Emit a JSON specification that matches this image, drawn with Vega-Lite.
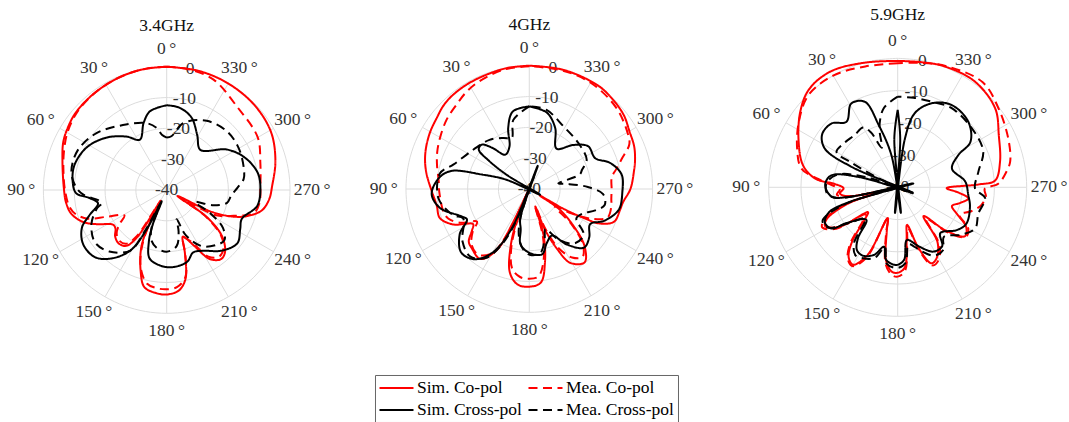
{
  "$schema": "https://vega.github.io/schema/vega-lite/v6.json",
  "autosize": {"type": "pad"},
  "padding": {"left": 2.7, "top": 0, "right": 0, "bottom": 0},
  "config": {"view": {"stroke": null}, "font": "Liberation Serif"},
  "datasets": {
    "rings": [
      {"level":-30,"angle":0},{"level":-30,"angle":10},{"level":-30,"angle":20},{"level":-30,"angle":30},{"level":-30,"angle":40},{"level":-30,"angle":50},{"level":-30,"angle":60},{"level":-30,"angle":70},{"level":-30,"angle":80},{"level":-30,"angle":90},{"level":-30,"angle":100},{"level":-30,"angle":110},{"level":-30,"angle":120},{"level":-30,"angle":130},{"level":-30,"angle":140},{"level":-30,"angle":150},{"level":-30,"angle":160},{"level":-30,"angle":170},{"level":-30,"angle":180},{"level":-30,"angle":190},{"level":-30,"angle":200},{"level":-30,"angle":210},{"level":-30,"angle":220},{"level":-30,"angle":230},{"level":-30,"angle":240},{"level":-30,"angle":250},{"level":-30,"angle":260},{"level":-30,"angle":270},{"level":-30,"angle":280},{"level":-30,"angle":290},{"level":-30,"angle":300},{"level":-30,"angle":310},{"level":-30,"angle":320},{"level":-30,"angle":330},{"level":-30,"angle":340},{"level":-30,"angle":350},{"level":-30,"angle":360},
      {"level":-20,"angle":0},{"level":-20,"angle":10},{"level":-20,"angle":20},{"level":-20,"angle":30},{"level":-20,"angle":40},{"level":-20,"angle":50},{"level":-20,"angle":60},{"level":-20,"angle":70},{"level":-20,"angle":80},{"level":-20,"angle":90},{"level":-20,"angle":100},{"level":-20,"angle":110},{"level":-20,"angle":120},{"level":-20,"angle":130},{"level":-20,"angle":140},{"level":-20,"angle":150},{"level":-20,"angle":160},{"level":-20,"angle":170},{"level":-20,"angle":180},{"level":-20,"angle":190},{"level":-20,"angle":200},{"level":-20,"angle":210},{"level":-20,"angle":220},{"level":-20,"angle":230},{"level":-20,"angle":240},{"level":-20,"angle":250},{"level":-20,"angle":260},{"level":-20,"angle":270},{"level":-20,"angle":280},{"level":-20,"angle":290},{"level":-20,"angle":300},{"level":-20,"angle":310},{"level":-20,"angle":320},{"level":-20,"angle":330},{"level":-20,"angle":340},{"level":-20,"angle":350},{"level":-20,"angle":360},
      {"level":-10,"angle":0},{"level":-10,"angle":10},{"level":-10,"angle":20},{"level":-10,"angle":30},{"level":-10,"angle":40},{"level":-10,"angle":50},{"level":-10,"angle":60},{"level":-10,"angle":70},{"level":-10,"angle":80},{"level":-10,"angle":90},{"level":-10,"angle":100},{"level":-10,"angle":110},{"level":-10,"angle":120},{"level":-10,"angle":130},{"level":-10,"angle":140},{"level":-10,"angle":150},{"level":-10,"angle":160},{"level":-10,"angle":170},{"level":-10,"angle":180},{"level":-10,"angle":190},{"level":-10,"angle":200},{"level":-10,"angle":210},{"level":-10,"angle":220},{"level":-10,"angle":230},{"level":-10,"angle":240},{"level":-10,"angle":250},{"level":-10,"angle":260},{"level":-10,"angle":270},{"level":-10,"angle":280},{"level":-10,"angle":290},{"level":-10,"angle":300},{"level":-10,"angle":310},{"level":-10,"angle":320},{"level":-10,"angle":330},{"level":-10,"angle":340},{"level":-10,"angle":350},{"level":-10,"angle":360},
      {"level":0,"angle":0},{"level":0,"angle":10},{"level":0,"angle":20},{"level":0,"angle":30},{"level":0,"angle":40},{"level":0,"angle":50},{"level":0,"angle":60},{"level":0,"angle":70},{"level":0,"angle":80},{"level":0,"angle":90},{"level":0,"angle":100},{"level":0,"angle":110},{"level":0,"angle":120},{"level":0,"angle":130},{"level":0,"angle":140},{"level":0,"angle":150},{"level":0,"angle":160},{"level":0,"angle":170},{"level":0,"angle":180},{"level":0,"angle":190},{"level":0,"angle":200},{"level":0,"angle":210},{"level":0,"angle":220},{"level":0,"angle":230},{"level":0,"angle":240},{"level":0,"angle":250},{"level":0,"angle":260},{"level":0,"angle":270},{"level":0,"angle":280},{"level":0,"angle":290},{"level":0,"angle":300},{"level":0,"angle":310},{"level":0,"angle":320},{"level":0,"angle":330},{"level":0,"angle":340},{"level":0,"angle":350},{"level":0,"angle":360}
    ],
    "spokes": [{"angle": 0}, {"angle": 30}, {"angle": 60}, {"angle": 90}, {"angle": 120}, {"angle": 150}, {"angle": 180}, {"angle": 210}, {"angle": 240}, {"angle": 270}, {"angle": 300}, {"angle": 330}],
    "angleLabels": [
      {"angle": 0, "label": "0\u2009°"}, {"angle": 30, "label": "30\u2009°"}, {"angle": 60, "label": "60\u2009°"}, {"angle": 90, "label": "90\u2009°"},
      {"angle": 120, "label": "120\u2009°"}, {"angle": 150, "label": "150\u2009°"}, {"angle": 180, "label": "180\u2009°"}, {"angle": 210, "label": "210\u2009°"},
      {"angle": 240, "label": "240\u2009°"}, {"angle": 270, "label": "270\u2009°"}, {"angle": 300, "label": "300\u2009°"}, {"angle": 330, "label": "330\u2009°"}
    ],
    "radialLabels": [{"level": 0, "label": "0"}, {"level": -10, "label": "-10"}, {"level": -20, "label": "-20"}, {"level": -30, "label": "-30"}, {"level": -40, "label": "-40"}],
    "titles": [{"panel": "3.4GHz"}, {"panel": "4GHz"}, {"panel": "5.9GHz"}],
    "curves": [
      {"panel":"3.4GHz","series":"Sim. Co-pol","angle":0,"dB":0},{"panel":"3.4GHz","series":"Sim. Co-pol","angle":10,"dB":-0.1},{"panel":"3.4GHz","series":"Sim. Co-pol","angle":20,"dB":-0.3},{"panel":"3.4GHz","series":"Sim. Co-pol","angle":30,"dB":-0.6},{"panel":"3.4GHz","series":"Sim. Co-pol","angle":40,"dB":-0.9},{"panel":"3.4GHz","series":"Sim. Co-pol","angle":50,"dB":-1.3},{"panel":"3.4GHz","series":"Sim. Co-pol","angle":57,"dB":-2},{"panel":"3.4GHz","series":"Sim. Co-pol","angle":65,"dB":-3},{"panel":"3.4GHz","series":"Sim. Co-pol","angle":75,"dB":-5},{"panel":"3.4GHz","series":"Sim. Co-pol","angle":90,"dB":-6.7},{"panel":"3.4GHz","series":"Sim. Co-pol","angle":97,"dB":-7.1},{"panel":"3.4GHz","series":"Sim. Co-pol","angle":104,"dB":-8.1},{"panel":"3.4GHz","series":"Sim. Co-pol","angle":111,"dB":-11},{"panel":"3.4GHz","series":"Sim. Co-pol","angle":116,"dB":-14.7},{"panel":"3.4GHz","series":"Sim. Co-pol","angle":123,"dB":-19.3},{"panel":"3.4GHz","series":"Sim. Co-pol","angle":127,"dB":-19.2},{"panel":"3.4GHz","series":"Sim. Co-pol","angle":132,"dB":-17.5},{"panel":"3.4GHz","series":"Sim. Co-pol","angle":138,"dB":-16.7},{"panel":"3.4GHz","series":"Sim. Co-pol","angle":144,"dB":-17.6},{"panel":"3.4GHz","series":"Sim. Co-pol","angle":148,"dB":-22},{"panel":"3.4GHz","series":"Sim. Co-pol","angle":150,"dB":-36},{"panel":"3.4GHz","series":"Sim. Co-pol","angle":153,"dB":-27},{"panel":"3.4GHz","series":"Sim. Co-pol","angle":156,"dB":-19.8},{"panel":"3.4GHz","series":"Sim. Co-pol","angle":162,"dB":-12.6},{"panel":"3.4GHz","series":"Sim. Co-pol","angle":167,"dB":-7.7},{"panel":"3.4GHz","series":"Sim. Co-pol","angle":174,"dB":-6.4},{"panel":"3.4GHz","series":"Sim. Co-pol","angle":180,"dB":-6.1},{"panel":"3.4GHz","series":"Sim. Co-pol","angle":187,"dB":-7.2},{"panel":"3.4GHz","series":"Sim. Co-pol","angle":192,"dB":-10.6},{"panel":"3.4GHz","series":"Sim. Co-pol","angle":196,"dB":-18.5},{"panel":"3.4GHz","series":"Sim. Co-pol","angle":199,"dB":-24},{"panel":"3.4GHz","series":"Sim. Co-pol","angle":202,"dB":-23},{"panel":"3.4GHz","series":"Sim. Co-pol","angle":206,"dB":-20},{"panel":"3.4GHz","series":"Sim. Co-pol","angle":212,"dB":-13.6},{"panel":"3.4GHz","series":"Sim. Co-pol","angle":218,"dB":-11.5},{"panel":"3.4GHz","series":"Sim. Co-pol","angle":223,"dB":-12.3},{"panel":"3.4GHz","series":"Sim. Co-pol","angle":230,"dB":-16.5},{"panel":"3.4GHz","series":"Sim. Co-pol","angle":236,"dB":-24.3},{"panel":"3.4GHz","series":"Sim. Co-pol","angle":241,"dB":-36},{"panel":"3.4GHz","series":"Sim. Co-pol","angle":244,"dB":-24},{"panel":"3.4GHz","series":"Sim. Co-pol","angle":248,"dB":-17},{"panel":"3.4GHz","series":"Sim. Co-pol","angle":252,"dB":-12.6},{"panel":"3.4GHz","series":"Sim. Co-pol","angle":258,"dB":-8.4},{"panel":"3.4GHz","series":"Sim. Co-pol","angle":265,"dB":-6.6},{"panel":"3.4GHz","series":"Sim. Co-pol","angle":272,"dB":-5.8},{"panel":"3.4GHz","series":"Sim. Co-pol","angle":285,"dB":-3.5},{"panel":"3.4GHz","series":"Sim. Co-pol","angle":299,"dB":-1.3},{"panel":"3.4GHz","series":"Sim. Co-pol","angle":314,"dB":-0.4},{"panel":"3.4GHz","series":"Sim. Co-pol","angle":330,"dB":-0.1},{"panel":"3.4GHz","series":"Sim. Co-pol","angle":345,"dB":0},{"panel":"3.4GHz","series":"Sim. Co-pol","angle":360,"dB":0},

      {"panel":"3.4GHz","series":"Mea. Co-pol","angle":0,"dB":0},{"panel":"3.4GHz","series":"Mea. Co-pol","angle":10,"dB":-0.1},{"panel":"3.4GHz","series":"Mea. Co-pol","angle":20,"dB":-0.3},{"panel":"3.4GHz","series":"Mea. Co-pol","angle":30,"dB":-0.6},{"panel":"3.4GHz","series":"Mea. Co-pol","angle":40,"dB":-1},{"panel":"3.4GHz","series":"Mea. Co-pol","angle":50,"dB":-1.6},{"panel":"3.4GHz","series":"Mea. Co-pol","angle":60,"dB":-2.8},{"panel":"3.4GHz","series":"Mea. Co-pol","angle":70,"dB":-4.5},{"panel":"3.4GHz","series":"Mea. Co-pol","angle":80,"dB":-6},{"panel":"3.4GHz","series":"Mea. Co-pol","angle":90,"dB":-7},{"panel":"3.4GHz","series":"Mea. Co-pol","angle":100,"dB":-8},{"panel":"3.4GHz","series":"Mea. Co-pol","angle":105,"dB":-9.5},{"panel":"3.4GHz","series":"Mea. Co-pol","angle":110,"dB":-12.8},{"panel":"3.4GHz","series":"Mea. Co-pol","angle":114,"dB":-18.6},{"panel":"3.4GHz","series":"Mea. Co-pol","angle":121,"dB":-24},{"panel":"3.4GHz","series":"Mea. Co-pol","angle":126,"dB":-21},{"panel":"3.4GHz","series":"Mea. Co-pol","angle":131,"dB":-18.5},{"panel":"3.4GHz","series":"Mea. Co-pol","angle":137,"dB":-17.5},{"panel":"3.4GHz","series":"Mea. Co-pol","angle":143,"dB":-18.2},{"panel":"3.4GHz","series":"Mea. Co-pol","angle":147,"dB":-22},{"panel":"3.4GHz","series":"Mea. Co-pol","angle":150,"dB":-35},{"panel":"3.4GHz","series":"Mea. Co-pol","angle":153,"dB":-27},{"panel":"3.4GHz","series":"Mea. Co-pol","angle":157,"dB":-19},{"panel":"3.4GHz","series":"Mea. Co-pol","angle":162,"dB":-13},{"panel":"3.4GHz","series":"Mea. Co-pol","angle":168,"dB":-9},{"panel":"3.4GHz","series":"Mea. Co-pol","angle":174,"dB":-8},{"panel":"3.4GHz","series":"Mea. Co-pol","angle":180,"dB":-7.8},{"panel":"3.4GHz","series":"Mea. Co-pol","angle":186,"dB":-8.3},{"panel":"3.4GHz","series":"Mea. Co-pol","angle":192,"dB":-11},{"panel":"3.4GHz","series":"Mea. Co-pol","angle":196,"dB":-18},{"panel":"3.4GHz","series":"Mea. Co-pol","angle":199,"dB":-24},{"panel":"3.4GHz","series":"Mea. Co-pol","angle":202,"dB":-23},{"panel":"3.4GHz","series":"Mea. Co-pol","angle":206,"dB":-21},{"panel":"3.4GHz","series":"Mea. Co-pol","angle":212,"dB":-14.5},{"panel":"3.4GHz","series":"Mea. Co-pol","angle":218,"dB":-12.5},{"panel":"3.4GHz","series":"Mea. Co-pol","angle":224,"dB":-13.5},{"panel":"3.4GHz","series":"Mea. Co-pol","angle":230,"dB":-17},{"panel":"3.4GHz","series":"Mea. Co-pol","angle":236,"dB":-25},{"panel":"3.4GHz","series":"Mea. Co-pol","angle":240,"dB":-35},{"panel":"3.4GHz","series":"Mea. Co-pol","angle":243,"dB":-22},{"panel":"3.4GHz","series":"Mea. Co-pol","angle":250,"dB":-15.7},{"panel":"3.4GHz","series":"Mea. Co-pol","angle":255,"dB":-10.8},{"panel":"3.4GHz","series":"Mea. Co-pol","angle":262,"dB":-9.6},{"panel":"3.4GHz","series":"Mea. Co-pol","angle":272,"dB":-9.6},{"panel":"3.4GHz","series":"Mea. Co-pol","angle":286,"dB":-8.4},{"panel":"3.4GHz","series":"Mea. Co-pol","angle":300,"dB":-5.9},{"panel":"3.4GHz","series":"Mea. Co-pol","angle":320,"dB":-4.6},{"panel":"3.4GHz","series":"Mea. Co-pol","angle":337,"dB":-1.1},{"panel":"3.4GHz","series":"Mea. Co-pol","angle":350,"dB":-0.2},{"panel":"3.4GHz","series":"Mea. Co-pol","angle":360,"dB":0},

      {"panel":"3.4GHz","series":"Sim. Cross-pol","angle":0,"dB":-12.5},{"panel":"3.4GHz","series":"Sim. Cross-pol","angle":12,"dB":-13.9},{"panel":"3.4GHz","series":"Sim. Cross-pol","angle":19,"dB":-17},{"panel":"3.4GHz","series":"Sim. Cross-pol","angle":28,"dB":-21.5},{"panel":"3.4GHz","series":"Sim. Cross-pol","angle":37,"dB":-18.3},{"panel":"3.4GHz","series":"Sim. Cross-pol","angle":49,"dB":-14.1},{"panel":"3.4GHz","series":"Sim. Cross-pol","angle":62,"dB":-10.6},{"panel":"3.4GHz","series":"Sim. Cross-pol","angle":75,"dB":-9},{"panel":"3.4GHz","series":"Sim. Cross-pol","angle":85,"dB":-9.4},{"panel":"3.4GHz","series":"Sim. Cross-pol","angle":92,"dB":-10.6},{"panel":"3.4GHz","series":"Sim. Cross-pol","angle":96,"dB":-14.9},{"panel":"3.4GHz","series":"Sim. Cross-pol","angle":101,"dB":-17.3},{"panel":"3.4GHz","series":"Sim. Cross-pol","angle":108,"dB":-13.7},{"panel":"3.4GHz","series":"Sim. Cross-pol","angle":114,"dB":-9.9},{"panel":"3.4GHz","series":"Sim. Cross-pol","angle":123,"dB":-7.7},{"panel":"3.4GHz","series":"Sim. Cross-pol","angle":133,"dB":-8.1},{"panel":"3.4GHz","series":"Sim. Cross-pol","angle":141,"dB":-11.4},{"panel":"3.4GHz","series":"Sim. Cross-pol","angle":149,"dB":-17.1},{"panel":"3.4GHz","series":"Sim. Cross-pol","angle":153,"dB":-25.4},{"panel":"3.4GHz","series":"Sim. Cross-pol","angle":156,"dB":-36},{"panel":"3.4GHz","series":"Sim. Cross-pol","angle":158,"dB":-28},{"panel":"3.4GHz","series":"Sim. Cross-pol","angle":161,"dB":-22.2},{"panel":"3.4GHz","series":"Sim. Cross-pol","angle":166,"dB":-17.1},{"panel":"3.4GHz","series":"Sim. Cross-pol","angle":176,"dB":-15.3},{"panel":"3.4GHz","series":"Sim. Cross-pol","angle":185,"dB":-14.9},{"panel":"3.4GHz","series":"Sim. Cross-pol","angle":196,"dB":-15.8},{"panel":"3.4GHz","series":"Sim. Cross-pol","angle":203,"dB":-18},{"panel":"3.4GHz","series":"Sim. Cross-pol","angle":211,"dB":-17},{"panel":"3.4GHz","series":"Sim. Cross-pol","angle":222,"dB":-13.5},{"panel":"3.4GHz","series":"Sim. Cross-pol","angle":233,"dB":-11.3},{"panel":"3.4GHz","series":"Sim. Cross-pol","angle":242,"dB":-13},{"panel":"3.4GHz","series":"Sim. Cross-pol","angle":249,"dB":-13.9},{"panel":"3.4GHz","series":"Sim. Cross-pol","angle":260,"dB":-10.2},{"panel":"3.4GHz","series":"Sim. Cross-pol","angle":271,"dB":-9.6},{"panel":"3.4GHz","series":"Sim. Cross-pol","angle":281,"dB":-10},{"panel":"3.4GHz","series":"Sim. Cross-pol","angle":293,"dB":-12.7},{"panel":"3.4GHz","series":"Sim. Cross-pol","angle":304,"dB":-16.5},{"panel":"3.4GHz","series":"Sim. Cross-pol","angle":320,"dB":-23},{"panel":"3.4GHz","series":"Sim. Cross-pol","angle":331,"dB":-19.6},{"panel":"3.4GHz","series":"Sim. Cross-pol","angle":341,"dB":-15.2},{"panel":"3.4GHz","series":"Sim. Cross-pol","angle":351,"dB":-13},{"panel":"3.4GHz","series":"Sim. Cross-pol","angle":360,"dB":-12.5},

      {"panel":"3.4GHz","series":"Mea. Cross-pol","angle":0,"dB":-23},{"panel":"3.4GHz","series":"Mea. Cross-pol","angle":5,"dB":-22},{"panel":"3.4GHz","series":"Mea. Cross-pol","angle":9,"dB":-19.7},{"panel":"3.4GHz","series":"Mea. Cross-pol","angle":17,"dB":-17.3},{"panel":"3.4GHz","series":"Mea. Cross-pol","angle":34,"dB":-14.6},{"panel":"3.4GHz","series":"Mea. Cross-pol","angle":51,"dB":-10.7},{"panel":"3.4GHz","series":"Mea. Cross-pol","angle":66,"dB":-8.4},{"panel":"3.4GHz","series":"Mea. Cross-pol","angle":79,"dB":-8.5},{"panel":"3.4GHz","series":"Mea. Cross-pol","angle":88,"dB":-10.5},{"panel":"3.4GHz","series":"Mea. Cross-pol","angle":93,"dB":-12.8},{"panel":"3.4GHz","series":"Mea. Cross-pol","angle":101,"dB":-18.5},{"panel":"3.4GHz","series":"Mea. Cross-pol","angle":105,"dB":-16.5},{"panel":"3.4GHz","series":"Mea. Cross-pol","angle":114,"dB":-13.3},{"panel":"3.4GHz","series":"Mea. Cross-pol","angle":126,"dB":-11.2},{"panel":"3.4GHz","series":"Mea. Cross-pol","angle":137,"dB":-12.7},{"panel":"3.4GHz","series":"Mea. Cross-pol","angle":149,"dB":-17.1},{"panel":"3.4GHz","series":"Mea. Cross-pol","angle":152,"dB":-25},{"panel":"3.4GHz","series":"Mea. Cross-pol","angle":155,"dB":-35},{"panel":"3.4GHz","series":"Mea. Cross-pol","angle":158,"dB":-27},{"panel":"3.4GHz","series":"Mea. Cross-pol","angle":163,"dB":-23},{"panel":"3.4GHz","series":"Mea. Cross-pol","angle":170,"dB":-21},{"panel":"3.4GHz","series":"Mea. Cross-pol","angle":180,"dB":-20},{"panel":"3.4GHz","series":"Mea. Cross-pol","angle":190,"dB":-21.5},{"panel":"3.4GHz","series":"Mea. Cross-pol","angle":196,"dB":-26},{"panel":"3.4GHz","series":"Mea. Cross-pol","angle":199,"dB":-30},{"panel":"3.4GHz","series":"Mea. Cross-pol","angle":203,"dB":-24},{"panel":"3.4GHz","series":"Mea. Cross-pol","angle":212,"dB":-18.5},{"panel":"3.4GHz","series":"Mea. Cross-pol","angle":222,"dB":-16},{"panel":"3.4GHz","series":"Mea. Cross-pol","angle":229,"dB":-15.2},{"panel":"3.4GHz","series":"Mea. Cross-pol","angle":236,"dB":-18},{"panel":"3.4GHz","series":"Mea. Cross-pol","angle":242,"dB":-24},{"panel":"3.4GHz","series":"Mea. Cross-pol","angle":247,"dB":-30},{"panel":"3.4GHz","series":"Mea. Cross-pol","angle":252,"dB":-24},{"panel":"3.4GHz","series":"Mea. Cross-pol","angle":258,"dB":-20},{"panel":"3.4GHz","series":"Mea. Cross-pol","angle":265,"dB":-19},{"panel":"3.4GHz","series":"Mea. Cross-pol","angle":272,"dB":-17},{"panel":"3.4GHz","series":"Mea. Cross-pol","angle":278,"dB":-14.8},{"panel":"3.4GHz","series":"Mea. Cross-pol","angle":286,"dB":-14},{"panel":"3.4GHz","series":"Mea. Cross-pol","angle":300,"dB":-13},{"panel":"3.4GHz","series":"Mea. Cross-pol","angle":314,"dB":-12.7},{"panel":"3.4GHz","series":"Mea. Cross-pol","angle":330,"dB":-14.1},{"panel":"3.4GHz","series":"Mea. Cross-pol","angle":346,"dB":-17.6},{"panel":"3.4GHz","series":"Mea. Cross-pol","angle":355,"dB":-22.5},{"panel":"3.4GHz","series":"Mea. Cross-pol","angle":360,"dB":-23},

      {"panel":"4GHz","series":"Sim. Co-pol","angle":0,"dB":0},{"panel":"4GHz","series":"Sim. Co-pol","angle":10,"dB":-0.1},{"panel":"4GHz","series":"Sim. Co-pol","angle":20,"dB":-0.4},{"panel":"4GHz","series":"Sim. Co-pol","angle":30,"dB":-0.5},{"panel":"4GHz","series":"Sim. Co-pol","angle":39,"dB":-0.7},{"panel":"4GHz","series":"Sim. Co-pol","angle":46,"dB":-1.2},{"panel":"4GHz","series":"Sim. Co-pol","angle":52,"dB":-2.1},{"panel":"4GHz","series":"Sim. Co-pol","angle":60,"dB":-2.9},{"panel":"4GHz","series":"Sim. Co-pol","angle":68,"dB":-3.9},{"panel":"4GHz","series":"Sim. Co-pol","angle":75,"dB":-5},{"panel":"4GHz","series":"Sim. Co-pol","angle":82,"dB":-6.4},{"panel":"4GHz","series":"Sim. Co-pol","angle":91,"dB":-8.3},{"panel":"4GHz","series":"Sim. Co-pol","angle":100,"dB":-9.5},{"panel":"4GHz","series":"Sim. Co-pol","angle":108,"dB":-9.5},{"panel":"4GHz","series":"Sim. Co-pol","angle":115,"dB":-12.8},{"panel":"4GHz","series":"Sim. Co-pol","angle":122,"dB":-18.5},{"panel":"4GHz","series":"Sim. Co-pol","angle":126,"dB":-17},{"panel":"4GHz","series":"Sim. Co-pol","angle":131,"dB":-14},{"panel":"4GHz","series":"Sim. Co-pol","angle":136,"dB":-13.2},{"panel":"4GHz","series":"Sim. Co-pol","angle":145,"dB":-12.3},{"panel":"4GHz","series":"Sim. Co-pol","angle":152,"dB":-17.6},{"panel":"4GHz","series":"Sim. Co-pol","angle":154,"dB":-28},{"panel":"4GHz","series":"Sim. Co-pol","angle":156,"dB":-40},{"panel":"4GHz","series":"Sim. Co-pol","angle":158,"dB":-30},{"panel":"4GHz","series":"Sim. Co-pol","angle":162,"dB":-20.4},{"panel":"4GHz","series":"Sim. Co-pol","angle":167,"dB":-12.1},{"panel":"4GHz","series":"Sim. Co-pol","angle":173,"dB":-8.8},{"panel":"4GHz","series":"Sim. Co-pol","angle":180,"dB":-8.3},{"panel":"4GHz","series":"Sim. Co-pol","angle":187,"dB":-9.4},{"panel":"4GHz","series":"Sim. Co-pol","angle":192,"dB":-15.6},{"panel":"4GHz","series":"Sim. Co-pol","angle":197,"dB":-24},{"panel":"4GHz","series":"Sim. Co-pol","angle":199,"dB":-34},{"panel":"4GHz","series":"Sim. Co-pol","angle":201,"dB":-26},{"panel":"4GHz","series":"Sim. Co-pol","angle":205,"dB":-18.4},{"panel":"4GHz","series":"Sim. Co-pol","angle":209,"dB":-12.6},{"panel":"4GHz","series":"Sim. Co-pol","angle":217,"dB":-10.2},{"panel":"4GHz","series":"Sim. Co-pol","angle":224,"dB":-14.2},{"panel":"4GHz","series":"Sim. Co-pol","angle":230,"dB":-21.2},{"panel":"4GHz","series":"Sim. Co-pol","angle":236,"dB":-28.3},{"panel":"4GHz","series":"Sim. Co-pol","angle":238,"dB":-36},{"panel":"4GHz","series":"Sim. Co-pol","angle":240,"dB":-27},{"panel":"4GHz","series":"Sim. Co-pol","angle":242,"dB":-20},{"panel":"4GHz","series":"Sim. Co-pol","angle":244,"dB":-14.4},{"panel":"4GHz","series":"Sim. Co-pol","angle":249,"dB":-10.5},{"panel":"4GHz","series":"Sim. Co-pol","angle":257,"dB":-9.8},{"panel":"4GHz","series":"Sim. Co-pol","angle":262,"dB":-9.3},{"panel":"4GHz","series":"Sim. Co-pol","angle":270,"dB":-7.2},{"panel":"4GHz","series":"Sim. Co-pol","angle":280,"dB":-5.5},{"panel":"4GHz","series":"Sim. Co-pol","angle":285,"dB":-4.5},{"panel":"4GHz","series":"Sim. Co-pol","angle":292,"dB":-3.3},{"panel":"4GHz","series":"Sim. Co-pol","angle":300,"dB":-2.5},{"panel":"4GHz","series":"Sim. Co-pol","angle":308,"dB":-1.1},{"panel":"4GHz","series":"Sim. Co-pol","angle":318,"dB":-0.2},{"panel":"4GHz","series":"Sim. Co-pol","angle":327,"dB":0.3},{"panel":"4GHz","series":"Sim. Co-pol","angle":344,"dB":0.2},{"panel":"4GHz","series":"Sim. Co-pol","angle":360,"dB":0},

      {"panel":"4GHz","series":"Mea. Co-pol","angle":0,"dB":-0.2},{"panel":"4GHz","series":"Mea. Co-pol","angle":12,"dB":-0.4},{"panel":"4GHz","series":"Mea. Co-pol","angle":25,"dB":-1.5},{"panel":"4GHz","series":"Mea. Co-pol","angle":33,"dB":-2.5},{"panel":"4GHz","series":"Mea. Co-pol","angle":41,"dB":-3.9},{"panel":"4GHz","series":"Mea. Co-pol","angle":50,"dB":-5},{"panel":"4GHz","series":"Mea. Co-pol","angle":60,"dB":-6.6},{"panel":"4GHz","series":"Mea. Co-pol","angle":68,"dB":-7.8},{"panel":"4GHz","series":"Mea. Co-pol","angle":75,"dB":-9},{"panel":"4GHz","series":"Mea. Co-pol","angle":85,"dB":-10.5},{"panel":"4GHz","series":"Mea. Co-pol","angle":92,"dB":-10.8},{"panel":"4GHz","series":"Mea. Co-pol","angle":105,"dB":-11.2},{"panel":"4GHz","series":"Mea. Co-pol","angle":110,"dB":-12},{"panel":"4GHz","series":"Mea. Co-pol","angle":116,"dB":-15},{"panel":"4GHz","series":"Mea. Co-pol","angle":122,"dB":-20},{"panel":"4GHz","series":"Mea. Co-pol","angle":127,"dB":-17},{"panel":"4GHz","series":"Mea. Co-pol","angle":134,"dB":-14},{"panel":"4GHz","series":"Mea. Co-pol","angle":142,"dB":-13},{"panel":"4GHz","series":"Mea. Co-pol","angle":150,"dB":-16},{"panel":"4GHz","series":"Mea. Co-pol","angle":154,"dB":-24},{"panel":"4GHz","series":"Mea. Co-pol","angle":156,"dB":-40},{"panel":"4GHz","series":"Mea. Co-pol","angle":159,"dB":-30},{"panel":"4GHz","series":"Mea. Co-pol","angle":163,"dB":-20},{"panel":"4GHz","series":"Mea. Co-pol","angle":168,"dB":-13.5},{"panel":"4GHz","series":"Mea. Co-pol","angle":174,"dB":-11.3},{"panel":"4GHz","series":"Mea. Co-pol","angle":180,"dB":-10.9},{"panel":"4GHz","series":"Mea. Co-pol","angle":186,"dB":-11.5},{"panel":"4GHz","series":"Mea. Co-pol","angle":191,"dB":-16},{"panel":"4GHz","series":"Mea. Co-pol","angle":196,"dB":-24},{"panel":"4GHz","series":"Mea. Co-pol","angle":199,"dB":-34},{"panel":"4GHz","series":"Mea. Co-pol","angle":202,"dB":-26},{"panel":"4GHz","series":"Mea. Co-pol","angle":206,"dB":-19},{"panel":"4GHz","series":"Mea. Co-pol","angle":212,"dB":-13.8},{"panel":"4GHz","series":"Mea. Co-pol","angle":218,"dB":-12},{"panel":"4GHz","series":"Mea. Co-pol","angle":224,"dB":-15},{"panel":"4GHz","series":"Mea. Co-pol","angle":230,"dB":-22},{"panel":"4GHz","series":"Mea. Co-pol","angle":236,"dB":-30},{"panel":"4GHz","series":"Mea. Co-pol","angle":240,"dB":-24},{"panel":"4GHz","series":"Mea. Co-pol","angle":245,"dB":-17},{"panel":"4GHz","series":"Mea. Co-pol","angle":250,"dB":-13},{"panel":"4GHz","series":"Mea. Co-pol","angle":258,"dB":-12.8},{"panel":"4GHz","series":"Mea. Co-pol","angle":263,"dB":-13.2},{"panel":"4GHz","series":"Mea. Co-pol","angle":270,"dB":-13.3},{"panel":"4GHz","series":"Mea. Co-pol","angle":278,"dB":-13},{"panel":"4GHz","series":"Mea. Co-pol","angle":283,"dB":-11},{"panel":"4GHz","series":"Mea. Co-pol","angle":288,"dB":-8.5},{"panel":"4GHz","series":"Mea. Co-pol","angle":294,"dB":-4.5},{"panel":"4GHz","series":"Mea. Co-pol","angle":299,"dB":-3.4},{"panel":"4GHz","series":"Mea. Co-pol","angle":313,"dB":-1.4},{"panel":"4GHz","series":"Mea. Co-pol","angle":330,"dB":-0.2},{"panel":"4GHz","series":"Mea. Co-pol","angle":345,"dB":-0.1},{"panel":"4GHz","series":"Mea. Co-pol","angle":360,"dB":-0.2},

      {"panel":"4GHz","series":"Sim. Cross-pol","angle":0,"dB":-13.2},{"panel":"4GHz","series":"Sim. Cross-pol","angle":12,"dB":-14.3},{"panel":"4GHz","series":"Sim. Cross-pol","angle":19,"dB":-19},{"panel":"4GHz","series":"Sim. Cross-pol","angle":25,"dB":-24.8},{"panel":"4GHz","series":"Sim. Cross-pol","angle":35,"dB":-26.4},{"panel":"4GHz","series":"Sim. Cross-pol","angle":42,"dB":-22},{"panel":"4GHz","series":"Sim. Cross-pol","angle":47,"dB":-18.9},{"panel":"4GHz","series":"Sim. Cross-pol","angle":52,"dB":-19.2},{"panel":"4GHz","series":"Sim. Cross-pol","angle":55,"dB":-24},{"panel":"4GHz","series":"Sim. Cross-pol","angle":58,"dB":-32},{"panel":"4GHz","series":"Sim. Cross-pol","angle":62,"dB":-44},{"panel":"4GHz","series":"Sim. Cross-pol","angle":68,"dB":-32},{"panel":"4GHz","series":"Sim. Cross-pol","angle":73,"dB":-24},{"panel":"4GHz","series":"Sim. Cross-pol","angle":77,"dB":-14},{"panel":"4GHz","series":"Sim. Cross-pol","angle":83,"dB":-10.5},{"panel":"4GHz","series":"Sim. Cross-pol","angle":93,"dB":-8.3},{"panel":"4GHz","series":"Sim. Cross-pol","angle":102,"dB":-10.4},{"panel":"4GHz","series":"Sim. Cross-pol","angle":112,"dB":-16.3},{"panel":"4GHz","series":"Sim. Cross-pol","angle":116,"dB":-17.5},{"panel":"4GHz","series":"Sim. Cross-pol","angle":123,"dB":-13.1},{"panel":"4GHz","series":"Sim. Cross-pol","angle":133,"dB":-9.8},{"panel":"4GHz","series":"Sim. Cross-pol","angle":142,"dB":-11.1},{"panel":"4GHz","series":"Sim. Cross-pol","angle":150,"dB":-16.2},{"panel":"4GHz","series":"Sim. Cross-pol","angle":156,"dB":-26},{"panel":"4GHz","series":"Sim. Cross-pol","angle":160,"dB":-48},{"panel":"4GHz","series":"Sim. Cross-pol","angle":163,"dB":-30},{"panel":"4GHz","series":"Sim. Cross-pol","angle":168,"dB":-26.6},{"panel":"4GHz","series":"Sim. Cross-pol","angle":171,"dB":-21.8},{"panel":"4GHz","series":"Sim. Cross-pol","angle":180,"dB":-19.3},{"panel":"4GHz","series":"Sim. Cross-pol","angle":191,"dB":-18.4},{"panel":"4GHz","series":"Sim. Cross-pol","angle":198,"dB":-21.6},{"panel":"4GHz","series":"Sim. Cross-pol","angle":206,"dB":-23.2},{"panel":"4GHz","series":"Sim. Cross-pol","angle":214,"dB":-18.3},{"panel":"4GHz","series":"Sim. Cross-pol","angle":223,"dB":-14},{"panel":"4GHz","series":"Sim. Cross-pol","angle":231,"dB":-15},{"panel":"4GHz","series":"Sim. Cross-pol","angle":240,"dB":-17.2},{"panel":"4GHz","series":"Sim. Cross-pol","angle":247,"dB":-13.6},{"panel":"4GHz","series":"Sim. Cross-pol","angle":257,"dB":-10.2},{"panel":"4GHz","series":"Sim. Cross-pol","angle":268,"dB":-9.8},{"panel":"4GHz","series":"Sim. Cross-pol","angle":279,"dB":-9.7},{"panel":"4GHz","series":"Sim. Cross-pol","angle":288,"dB":-12.5},{"panel":"4GHz","series":"Sim. Cross-pol","angle":295,"dB":-16.4},{"panel":"4GHz","series":"Sim. Cross-pol","angle":306,"dB":-16.4},{"panel":"4GHz","series":"Sim. Cross-pol","angle":315,"dB":-19.8},{"panel":"4GHz","series":"Sim. Cross-pol","angle":326,"dB":-24.2},{"panel":"4GHz","series":"Sim. Cross-pol","angle":337,"dB":-18.5},{"panel":"4GHz","series":"Sim. Cross-pol","angle":347,"dB":-14.6},{"panel":"4GHz","series":"Sim. Cross-pol","angle":360,"dB":-13.2},

      {"panel":"4GHz","series":"Mea. Cross-pol","angle":0,"dB":-13.2},{"panel":"4GHz","series":"Mea. Cross-pol","angle":13,"dB":-17},{"panel":"4GHz","series":"Mea. Cross-pol","angle":19,"dB":-22.5},{"panel":"4GHz","series":"Mea. Cross-pol","angle":27,"dB":-21.4},{"panel":"4GHz","series":"Mea. Cross-pol","angle":39,"dB":-19.5},{"panel":"4GHz","series":"Mea. Cross-pol","angle":55,"dB":-17.8},{"panel":"4GHz","series":"Mea. Cross-pol","angle":72,"dB":-14.2},{"panel":"4GHz","series":"Mea. Cross-pol","angle":80,"dB":-10.6},{"panel":"4GHz","series":"Mea. Cross-pol","angle":96,"dB":-10.4},{"panel":"4GHz","series":"Mea. Cross-pol","angle":109,"dB":-13.9},{"panel":"4GHz","series":"Mea. Cross-pol","angle":114,"dB":-16.5},{"panel":"4GHz","series":"Mea. Cross-pol","angle":128,"dB":-12.5},{"panel":"4GHz","series":"Mea. Cross-pol","angle":139,"dB":-10.9},{"panel":"4GHz","series":"Mea. Cross-pol","angle":148,"dB":-13.7},{"panel":"4GHz","series":"Mea. Cross-pol","angle":154,"dB":-20.5},{"panel":"4GHz","series":"Mea. Cross-pol","angle":158,"dB":-30},{"panel":"4GHz","series":"Mea. Cross-pol","angle":160,"dB":-45},{"panel":"4GHz","series":"Mea. Cross-pol","angle":163,"dB":-30},{"panel":"4GHz","series":"Mea. Cross-pol","angle":168,"dB":-24},{"panel":"4GHz","series":"Mea. Cross-pol","angle":175,"dB":-20},{"panel":"4GHz","series":"Mea. Cross-pol","angle":182,"dB":-18.5},{"panel":"4GHz","series":"Mea. Cross-pol","angle":190,"dB":-19},{"panel":"4GHz","series":"Mea. Cross-pol","angle":197,"dB":-23},{"panel":"4GHz","series":"Mea. Cross-pol","angle":202,"dB":-26},{"panel":"4GHz","series":"Mea. Cross-pol","angle":210,"dB":-21},{"panel":"4GHz","series":"Mea. Cross-pol","angle":220,"dB":-17},{"panel":"4GHz","series":"Mea. Cross-pol","angle":230,"dB":-17},{"panel":"4GHz","series":"Mea. Cross-pol","angle":238,"dB":-22},{"panel":"4GHz","series":"Mea. Cross-pol","angle":245,"dB":-21},{"panel":"4GHz","series":"Mea. Cross-pol","angle":252,"dB":-17.5},{"panel":"4GHz","series":"Mea. Cross-pol","angle":258,"dB":-15},{"panel":"4GHz","series":"Mea. Cross-pol","angle":266,"dB":-16},{"panel":"4GHz","series":"Mea. Cross-pol","angle":272,"dB":-21},{"panel":"4GHz","series":"Mea. Cross-pol","angle":278,"dB":-28},{"panel":"4GHz","series":"Mea. Cross-pol","angle":281,"dB":-30.4},{"panel":"4GHz","series":"Mea. Cross-pol","angle":286,"dB":-23},{"panel":"4GHz","series":"Mea. Cross-pol","angle":290,"dB":-21.8},{"panel":"4GHz","series":"Mea. Cross-pol","angle":297,"dB":-19.1},{"panel":"4GHz","series":"Mea. Cross-pol","angle":313,"dB":-18.2},{"panel":"4GHz","series":"Mea. Cross-pol","angle":331,"dB":-16.9},{"panel":"4GHz","series":"Mea. Cross-pol","angle":348,"dB":-13.7},{"panel":"4GHz","series":"Mea. Cross-pol","angle":360,"dB":-13.2},

      {"panel":"5.9GHz","series":"Sim. Co-pol","angle":0,"dB":-0.8},{"panel":"5.9GHz","series":"Sim. Co-pol","angle":15,"dB":0},{"panel":"5.9GHz","series":"Sim. Co-pol","angle":30,"dB":1.5},{"panel":"5.9GHz","series":"Sim. Co-pol","angle":42,"dB":1},{"panel":"5.9GHz","series":"Sim. Co-pol","angle":52,"dB":-1.7},{"panel":"5.9GHz","series":"Sim. Co-pol","angle":65,"dB":-6.1},{"panel":"5.9GHz","series":"Sim. Co-pol","angle":77,"dB":-9.9},{"panel":"5.9GHz","series":"Sim. Co-pol","angle":84,"dB":-14.3},{"panel":"5.9GHz","series":"Sim. Co-pol","angle":87,"dB":-20.5},{"panel":"5.9GHz","series":"Sim. Co-pol","angle":91,"dB":-23.2},{"panel":"5.9GHz","series":"Sim. Co-pol","angle":96,"dB":-22},{"panel":"5.9GHz","series":"Sim. Co-pol","angle":100,"dB":-24},{"panel":"5.9GHz","series":"Sim. Co-pol","angle":104,"dB":-34},{"panel":"5.9GHz","series":"Sim. Co-pol","angle":108,"dB":-24},{"panel":"5.9GHz","series":"Sim. Co-pol","angle":114,"dB":-16},{"panel":"5.9GHz","series":"Sim. Co-pol","angle":118,"dB":-14.5},{"panel":"5.9GHz","series":"Sim. Co-pol","angle":124,"dB":-18},{"panel":"5.9GHz","series":"Sim. Co-pol","angle":130,"dB":-28},{"panel":"5.9GHz","series":"Sim. Co-pol","angle":134,"dB":-26},{"panel":"5.9GHz","series":"Sim. Co-pol","angle":140,"dB":-18},{"panel":"5.9GHz","series":"Sim. Co-pol","angle":145,"dB":-13.5},{"panel":"5.9GHz","series":"Sim. Co-pol","angle":150,"dB":-12.3},{"panel":"5.9GHz","series":"Sim. Co-pol","angle":156,"dB":-17},{"panel":"5.9GHz","series":"Sim. Co-pol","angle":162,"dB":-30},{"panel":"5.9GHz","series":"Sim. Co-pol","angle":166,"dB":-26},{"panel":"5.9GHz","series":"Sim. Co-pol","angle":171,"dB":-17},{"panel":"5.9GHz","series":"Sim. Co-pol","angle":176,"dB":-13.8},{"panel":"5.9GHz","series":"Sim. Co-pol","angle":180,"dB":-13.5},{"panel":"5.9GHz","series":"Sim. Co-pol","angle":185,"dB":-15},{"panel":"5.9GHz","series":"Sim. Co-pol","angle":190,"dB":-24},{"panel":"5.9GHz","series":"Sim. Co-pol","angle":194,"dB":-28},{"panel":"5.9GHz","series":"Sim. Co-pol","angle":199,"dB":-20},{"panel":"5.9GHz","series":"Sim. Co-pol","angle":204,"dB":-14.2},{"panel":"5.9GHz","series":"Sim. Co-pol","angle":209,"dB":-15},{"panel":"5.9GHz","series":"Sim. Co-pol","angle":216,"dB":-19},{"panel":"5.9GHz","series":"Sim. Co-pol","angle":222,"dB":-28},{"panel":"5.9GHz","series":"Sim. Co-pol","angle":228,"dB":-20},{"panel":"5.9GHz","series":"Sim. Co-pol","angle":234,"dB":-14.2},{"panel":"5.9GHz","series":"Sim. Co-pol","angle":240,"dB":-15.5},{"panel":"5.9GHz","series":"Sim. Co-pol","angle":246,"dB":-20},{"panel":"5.9GHz","series":"Sim. Co-pol","angle":251,"dB":-22.2},{"panel":"5.9GHz","series":"Sim. Co-pol","angle":256,"dB":-20},{"panel":"5.9GHz","series":"Sim. Co-pol","angle":261,"dB":-17.8},{"panel":"5.9GHz","series":"Sim. Co-pol","angle":265,"dB":-21},{"panel":"5.9GHz","series":"Sim. Co-pol","angle":269,"dB":-24.8},{"panel":"5.9GHz","series":"Sim. Co-pol","angle":272,"dB":-15},{"panel":"5.9GHz","series":"Sim. Co-pol","angle":274,"dB":-9.7},{"panel":"5.9GHz","series":"Sim. Co-pol","angle":284,"dB":-7.3},{"panel":"5.9GHz","series":"Sim. Co-pol","angle":297,"dB":-4.8},{"panel":"5.9GHz","series":"Sim. Co-pol","angle":309,"dB":-1.1},{"panel":"5.9GHz","series":"Sim. Co-pol","angle":324,"dB":0.6},{"panel":"5.9GHz","series":"Sim. Co-pol","angle":339,"dB":0.2},{"panel":"5.9GHz","series":"Sim. Co-pol","angle":349,"dB":-0.5},{"panel":"5.9GHz","series":"Sim. Co-pol","angle":360,"dB":-0.8},

      {"panel":"5.9GHz","series":"Mea. Co-pol","angle":0,"dB":-1.5},{"panel":"5.9GHz","series":"Mea. Co-pol","angle":15,"dB":-1.2},{"panel":"5.9GHz","series":"Mea. Co-pol","angle":30,"dB":0},{"panel":"5.9GHz","series":"Mea. Co-pol","angle":44,"dB":-0.2},{"panel":"5.9GHz","series":"Mea. Co-pol","angle":56,"dB":-3.1},{"panel":"5.9GHz","series":"Mea. Co-pol","angle":69,"dB":-6.6},{"panel":"5.9GHz","series":"Mea. Co-pol","angle":79,"dB":-9.6},{"panel":"5.9GHz","series":"Mea. Co-pol","angle":84,"dB":-15.2},{"panel":"5.9GHz","series":"Mea. Co-pol","angle":88,"dB":-19.5},{"panel":"5.9GHz","series":"Mea. Co-pol","angle":92,"dB":-22},{"panel":"5.9GHz","series":"Mea. Co-pol","angle":97,"dB":-21},{"panel":"5.9GHz","series":"Mea. Co-pol","angle":101,"dB":-26},{"panel":"5.9GHz","series":"Mea. Co-pol","angle":104,"dB":-34},{"panel":"5.9GHz","series":"Mea. Co-pol","angle":108,"dB":-23},{"panel":"5.9GHz","series":"Mea. Co-pol","angle":114,"dB":-15},{"panel":"5.9GHz","series":"Mea. Co-pol","angle":118,"dB":-13.5},{"panel":"5.9GHz","series":"Mea. Co-pol","angle":124,"dB":-17},{"panel":"5.9GHz","series":"Mea. Co-pol","angle":130,"dB":-27},{"panel":"5.9GHz","series":"Mea. Co-pol","angle":134,"dB":-25},{"panel":"5.9GHz","series":"Mea. Co-pol","angle":140,"dB":-17},{"panel":"5.9GHz","series":"Mea. Co-pol","angle":145,"dB":-13},{"panel":"5.9GHz","series":"Mea. Co-pol","angle":150,"dB":-11.8},{"panel":"5.9GHz","series":"Mea. Co-pol","angle":156,"dB":-16},{"panel":"5.9GHz","series":"Mea. Co-pol","angle":162,"dB":-30},{"panel":"5.9GHz","series":"Mea. Co-pol","angle":166,"dB":-25},{"panel":"5.9GHz","series":"Mea. Co-pol","angle":171,"dB":-16},{"panel":"5.9GHz","series":"Mea. Co-pol","angle":176,"dB":-12.8},{"panel":"5.9GHz","series":"Mea. Co-pol","angle":180,"dB":-12.3},{"panel":"5.9GHz","series":"Mea. Co-pol","angle":185,"dB":-14},{"panel":"5.9GHz","series":"Mea. Co-pol","angle":190,"dB":-23},{"panel":"5.9GHz","series":"Mea. Co-pol","angle":194,"dB":-27},{"panel":"5.9GHz","series":"Mea. Co-pol","angle":199,"dB":-19},{"panel":"5.9GHz","series":"Mea. Co-pol","angle":204,"dB":-13.5},{"panel":"5.9GHz","series":"Mea. Co-pol","angle":209,"dB":-14},{"panel":"5.9GHz","series":"Mea. Co-pol","angle":216,"dB":-18},{"panel":"5.9GHz","series":"Mea. Co-pol","angle":222,"dB":-27},{"panel":"5.9GHz","series":"Mea. Co-pol","angle":228,"dB":-19},{"panel":"5.9GHz","series":"Mea. Co-pol","angle":234,"dB":-13.8},{"panel":"5.9GHz","series":"Mea. Co-pol","angle":240,"dB":-14.8},{"panel":"5.9GHz","series":"Mea. Co-pol","angle":246,"dB":-19},{"panel":"5.9GHz","series":"Mea. Co-pol","angle":252,"dB":-16},{"panel":"5.9GHz","series":"Mea. Co-pol","angle":258,"dB":-13.5},{"panel":"5.9GHz","series":"Mea. Co-pol","angle":264,"dB":-12.5},{"panel":"5.9GHz","series":"Mea. Co-pol","angle":269,"dB":-13},{"panel":"5.9GHz","series":"Mea. Co-pol","angle":272,"dB":-8.8},{"panel":"5.9GHz","series":"Mea. Co-pol","angle":278,"dB":-6},{"panel":"5.9GHz","series":"Mea. Co-pol","angle":283,"dB":-4.2},{"panel":"5.9GHz","series":"Mea. Co-pol","angle":294,"dB":-2.5},{"panel":"5.9GHz","series":"Mea. Co-pol","angle":308,"dB":-0.3},{"panel":"5.9GHz","series":"Mea. Co-pol","angle":321,"dB":1.9},{"panel":"5.9GHz","series":"Mea. Co-pol","angle":338,"dB":0.5},{"panel":"5.9GHz","series":"Mea. Co-pol","angle":350,"dB":-0.8},{"panel":"5.9GHz","series":"Mea. Co-pol","angle":360,"dB":-1.5},

      {"panel":"5.9GHz","series":"Sim. Cross-pol","angle":0,"dB":-16},{"panel":"5.9GHz","series":"Sim. Cross-pol","angle":4,"dB":-25},{"panel":"5.9GHz","series":"Sim. Cross-pol","angle":7,"dB":-48},{"panel":"5.9GHz","series":"Sim. Cross-pol","angle":11,"dB":-30},{"panel":"5.9GHz","series":"Sim. Cross-pol","angle":17,"dB":-19.7},{"panel":"5.9GHz","series":"Sim. Cross-pol","angle":21,"dB":-11.6},{"panel":"5.9GHz","series":"Sim. Cross-pol","angle":29,"dB":-10.3},{"panel":"5.9GHz","series":"Sim. Cross-pol","angle":38,"dB":-14.2},{"panel":"5.9GHz","series":"Sim. Cross-pol","angle":46,"dB":-11.5},{"panel":"5.9GHz","series":"Sim. Cross-pol","angle":55,"dB":-11.4},{"panel":"5.9GHz","series":"Sim. Cross-pol","angle":62,"dB":-14.4},{"panel":"5.9GHz","series":"Sim. Cross-pol","angle":66,"dB":-24},{"panel":"5.9GHz","series":"Sim. Cross-pol","angle":70,"dB":-45},{"panel":"5.9GHz","series":"Sim. Cross-pol","angle":75,"dB":-28},{"panel":"5.9GHz","series":"Sim. Cross-pol","angle":80,"dB":-19},{"panel":"5.9GHz","series":"Sim. Cross-pol","angle":88,"dB":-17.5},{"panel":"5.9GHz","series":"Sim. Cross-pol","angle":98,"dB":-19.3},{"panel":"5.9GHz","series":"Sim. Cross-pol","angle":101,"dB":-24},{"panel":"5.9GHz","series":"Sim. Cross-pol","angle":104,"dB":-45},{"panel":"5.9GHz","series":"Sim. Cross-pol","angle":107,"dB":-24},{"panel":"5.9GHz","series":"Sim. Cross-pol","angle":110,"dB":-17.3},{"panel":"5.9GHz","series":"Sim. Cross-pol","angle":116,"dB":-14.9},{"panel":"5.9GHz","series":"Sim. Cross-pol","angle":122,"dB":-15.9},{"panel":"5.9GHz","series":"Sim. Cross-pol","angle":125,"dB":-20.7},{"panel":"5.9GHz","series":"Sim. Cross-pol","angle":136,"dB":-26},{"panel":"5.9GHz","series":"Sim. Cross-pol","angle":142,"dB":-20},{"panel":"5.9GHz","series":"Sim. Cross-pol","angle":147,"dB":-16.8},{"panel":"5.9GHz","series":"Sim. Cross-pol","angle":153,"dB":-16.2},{"panel":"5.9GHz","series":"Sim. Cross-pol","angle":161,"dB":-17.9},{"panel":"5.9GHz","series":"Sim. Cross-pol","angle":167,"dB":-21.1},{"panel":"5.9GHz","series":"Sim. Cross-pol","angle":171,"dB":-17.2},{"panel":"5.9GHz","series":"Sim. Cross-pol","angle":179,"dB":-15.9},{"panel":"5.9GHz","series":"Sim. Cross-pol","angle":185,"dB":-17.4},{"panel":"5.9GHz","series":"Sim. Cross-pol","angle":190,"dB":-23.4},{"panel":"5.9GHz","series":"Sim. Cross-pol","angle":200,"dB":-20.4},{"panel":"5.9GHz","series":"Sim. Cross-pol","angle":209,"dB":-17.2},{"panel":"5.9GHz","series":"Sim. Cross-pol","angle":217,"dB":-17.1},{"panel":"5.9GHz","series":"Sim. Cross-pol","angle":223,"dB":-20.6},{"panel":"5.9GHz","series":"Sim. Cross-pol","angle":234,"dB":-17.4},{"panel":"5.9GHz","series":"Sim. Cross-pol","angle":242,"dB":-15.9},{"panel":"5.9GHz","series":"Sim. Cross-pol","angle":255,"dB":-16.8},{"panel":"5.9GHz","series":"Sim. Cross-pol","angle":264,"dB":-18},{"panel":"5.9GHz","series":"Sim. Cross-pol","angle":275,"dB":-19},{"panel":"5.9GHz","series":"Sim. Cross-pol","angle":289,"dB":-22.2},{"panel":"5.9GHz","series":"Sim. Cross-pol","angle":298,"dB":-18.7},{"panel":"5.9GHz","series":"Sim. Cross-pol","angle":302,"dB":-13.4},{"panel":"5.9GHz","series":"Sim. Cross-pol","angle":313,"dB":-10.1},{"panel":"5.9GHz","series":"Sim. Cross-pol","angle":327,"dB":-9.5},{"panel":"5.9GHz","series":"Sim. Cross-pol","angle":338,"dB":-11.9},{"panel":"5.9GHz","series":"Sim. Cross-pol","angle":347,"dB":-16.4},{"panel":"5.9GHz","series":"Sim. Cross-pol","angle":351.5,"dB":-24.6},{"panel":"5.9GHz","series":"Sim. Cross-pol","angle":354,"dB":-48},{"panel":"5.9GHz","series":"Sim. Cross-pol","angle":357,"dB":-25},{"panel":"5.9GHz","series":"Sim. Cross-pol","angle":360,"dB":-16},

      {"panel":"5.9GHz","series":"Mea. Cross-pol","angle":0,"dB":-11.9},{"panel":"5.9GHz","series":"Mea. Cross-pol","angle":10,"dB":-15.1},{"panel":"5.9GHz","series":"Mea. Cross-pol","angle":17,"dB":-20.6},{"panel":"5.9GHz","series":"Mea. Cross-pol","angle":22,"dB":-26.8},{"panel":"5.9GHz","series":"Mea. Cross-pol","angle":26,"dB":-21},{"panel":"5.9GHz","series":"Mea. Cross-pol","angle":30,"dB":-18.6},{"panel":"5.9GHz","series":"Mea. Cross-pol","angle":40,"dB":-19},{"panel":"5.9GHz","series":"Mea. Cross-pol","angle":50,"dB":-18.5},{"panel":"5.9GHz","series":"Mea. Cross-pol","angle":60,"dB":-18.1},{"panel":"5.9GHz","series":"Mea. Cross-pol","angle":62,"dB":-23.7},{"panel":"5.9GHz","series":"Mea. Cross-pol","angle":65,"dB":-35},{"panel":"5.9GHz","series":"Mea. Cross-pol","angle":68,"dB":-45},{"panel":"5.9GHz","series":"Mea. Cross-pol","angle":72,"dB":-30},{"panel":"5.9GHz","series":"Mea. Cross-pol","angle":78,"dB":-21},{"panel":"5.9GHz","series":"Mea. Cross-pol","angle":86,"dB":-18},{"panel":"5.9GHz","series":"Mea. Cross-pol","angle":95,"dB":-18},{"panel":"5.9GHz","series":"Mea. Cross-pol","angle":100,"dB":-21},{"panel":"5.9GHz","series":"Mea. Cross-pol","angle":104,"dB":-40},{"panel":"5.9GHz","series":"Mea. Cross-pol","angle":108,"dB":-22},{"panel":"5.9GHz","series":"Mea. Cross-pol","angle":114,"dB":-14.5},{"panel":"5.9GHz","series":"Mea. Cross-pol","angle":120,"dB":-15},{"panel":"5.9GHz","series":"Mea. Cross-pol","angle":126,"dB":-21},{"panel":"5.9GHz","series":"Mea. Cross-pol","angle":134,"dB":-26},{"panel":"5.9GHz","series":"Mea. Cross-pol","angle":142,"dB":-18},{"panel":"5.9GHz","series":"Mea. Cross-pol","angle":148,"dB":-15.2},{"panel":"5.9GHz","series":"Mea. Cross-pol","angle":154,"dB":-15.5},{"panel":"5.9GHz","series":"Mea. Cross-pol","angle":162,"dB":-17},{"panel":"5.9GHz","series":"Mea. Cross-pol","angle":168,"dB":-21},{"panel":"5.9GHz","series":"Mea. Cross-pol","angle":172,"dB":-16},{"panel":"5.9GHz","series":"Mea. Cross-pol","angle":180,"dB":-15},{"panel":"5.9GHz","series":"Mea. Cross-pol","angle":186,"dB":-16.5},{"panel":"5.9GHz","series":"Mea. Cross-pol","angle":191,"dB":-22},{"panel":"5.9GHz","series":"Mea. Cross-pol","angle":200,"dB":-19},{"panel":"5.9GHz","series":"Mea. Cross-pol","angle":208,"dB":-16},{"panel":"5.9GHz","series":"Mea. Cross-pol","angle":216,"dB":-16},{"panel":"5.9GHz","series":"Mea. Cross-pol","angle":223,"dB":-19},{"panel":"5.9GHz","series":"Mea. Cross-pol","angle":233,"dB":-15.5},{"panel":"5.9GHz","series":"Mea. Cross-pol","angle":242,"dB":-12.8},{"panel":"5.9GHz","series":"Mea. Cross-pol","angle":252,"dB":-13.7},{"panel":"5.9GHz","series":"Mea. Cross-pol","angle":263,"dB":-12.7},{"panel":"5.9GHz","series":"Mea. Cross-pol","angle":269,"dB":-16},{"panel":"5.9GHz","series":"Mea. Cross-pol","angle":281,"dB":-14.5},{"panel":"5.9GHz","series":"Mea. Cross-pol","angle":293,"dB":-11.2},{"panel":"5.9GHz","series":"Mea. Cross-pol","angle":309,"dB":-10.6},{"panel":"5.9GHz","series":"Mea. Cross-pol","angle":326,"dB":-10.3},{"panel":"5.9GHz","series":"Mea. Cross-pol","angle":338,"dB":-11.4},{"panel":"5.9GHz","series":"Mea. Cross-pol","angle":350,"dB":-11.8},{"panel":"5.9GHz","series":"Mea. Cross-pol","angle":360,"dB":-11.9}
    ]
  },
  "spacing": 34.6,
  "bounds": "flush",
  "resolve": {"scale": {"color": "shared", "strokeDash": "shared", "x": "independent", "y": "independent"}},
  "hconcat": [
    {
      "width": 328, "height": 350,
      "encoding": {
        "x": {"field": "px", "type": "quantitative", "axis": null, "scale": {"domain": [-53.19, 53.19], "nice": false, "zero": false}},
        "y": {"field": "py", "type": "quantitative", "axis": null, "scale": {"domain": [-51.9, 61.63], "nice": false, "zero": false}}
      },
      "layer": [
        {"data": {"name": "rings"}, "transform": [{"calculate": "datum.level + 40", "as": "rr"}, {"calculate": "-datum.rr*sin(datum.angle*PI/180)", "as": "px"}, {"calculate": "datum.rr*cos(datum.angle*PI/180)", "as": "py"}],
         "mark": {"type": "line", "color": "#dcdcdc", "strokeWidth": 1, "interpolate": "catmull-rom"},
         "encoding": {"detail": {"field": "level", "type": "nominal"}, "order": {"field": "angle", "type": "quantitative"}}},
        {"data": {"name": "spokes"}, "transform": [{"calculate": "-40*sin(datum.angle*PI/180)", "as": "px"}, {"calculate": "40*cos(datum.angle*PI/180)", "as": "py"}],
         "mark": {"type": "rule", "stroke": "#dcdcdc", "strokeWidth": 1},
         "encoding": {"x": {"datum": 0, "type": "quantitative"}, "y": {"datum": 0, "type": "quantitative"}, "x2": {"field": "px"}, "y2": {"field": "py"}}},
        {"data": {"name": "angleLabels"}, "transform": [{"calculate": "-47.2*sin(datum.angle*PI/180)", "as": "px"}, {"calculate": "45.73*cos(datum.angle*PI/180)", "as": "py"}],
         "mark": {"type": "text", "font": "Liberation Serif", "fontSize": 17.5, "color": "#333333", "align": "center", "baseline": "middle"},
         "encoding": {"text": {"field": "label"}}},
        {"data": {"name": "radialLabels"}, "transform": [{"calculate": "datum.level + 40", "as": "rr"}, {"calculate": "-datum.rr*sin(349*PI/180)", "as": "px"}, {"calculate": "datum.rr*cos(349*PI/180)", "as": "py"}],
         "mark": {"type": "text", "font": "Liberation Serif", "fontSize": 17.5, "color": "#333333", "align": "center", "baseline": "middle"},
         "encoding": {"text": {"field": "label"}}},
        {"data": {"name": "titles"}, "transform": [{"filter": "datum.panel == '3.4GHz'"}, {"calculate": "0", "as": "px"}, {"calculate": "53.3", "as": "py"}],
         "mark": {"type": "text", "font": "Liberation Serif", "fontSize": 17.5, "color": "#111111", "align": "center", "baseline": "middle"},
         "encoding": {"text": {"field": "panel"}}},
        {"data": {"name": "curves"}, "transform": [{"filter": "datum.panel == '3.4GHz'"}, {"calculate": "datum.dB + 40", "as": "rr"}, {"calculate": "-datum.rr*sin(datum.angle*PI/180)", "as": "px"}, {"calculate": "datum.rr*cos(datum.angle*PI/180)", "as": "py"}],
         "mark": {"type": "line", "strokeWidth": 2, "interpolate": "catmull-rom"},
         "encoding": {
           "order": {"field": "angle", "type": "quantitative"},
           "color": {"field": "series", "type": "nominal", "scale": {"domain": ["Sim. Co-pol", "Sim. Cross-pol", "Mea. Co-pol", "Mea. Cross-pol"], "range": ["#ff0000", "#000000", "#ff0000", "#000000"]},
             "legend": {"title": null, "orient": "none", "legendX": 372.3, "legendY": 375, "columns": 2, "strokeColor": "#666666", "fillColor": "#ffffff", "padding": 3.5, "symbolType": "M-2,0H2", "symbolSize": 289, "symbolOffset": 8.5, "symbolStrokeWidth": 2, "labelFont": "Liberation Serif", "labelFontSize": 17.5, "labelColor": "#000000", "labelOffset": 11, "rowPadding": 4, "columnPadding": 2, "labelLimit": 300}},
           "strokeDash": {"field": "series", "type": "nominal", "scale": {"domain": ["Sim. Co-pol", "Sim. Cross-pol", "Mea. Co-pol", "Mea. Cross-pol"], "range": [[1, 0], [1, 0], [9, 5.5], [9, 5.5]]},
             "legend": {"title": null, "orient": "none", "legendX": 372.3, "legendY": 375, "columns": 2, "strokeColor": "#666666", "fillColor": "#ffffff", "padding": 3.5, "symbolType": "M-2,0H2", "symbolSize": 289, "symbolOffset": 8.5, "symbolStrokeWidth": 2, "labelFont": "Liberation Serif", "labelFontSize": 17.5, "labelColor": "#000000", "labelOffset": 11, "rowPadding": 4, "columnPadding": 2, "labelLimit": 300}}
         }}
      ]
    },
    {
      "width": 328, "height": 350,
      "encoding": {
        "x": {"field": "px", "type": "quantitative", "axis": null, "scale": {"domain": [-53.19, 53.19], "nice": false, "zero": false}},
        "y": {"field": "py", "type": "quantitative", "axis": null, "scale": {"domain": [-52.22, 61.30], "nice": false, "zero": false}}
      },
      "layer": [
        {"data": {"name": "rings"}, "transform": [{"calculate": "datum.level + 40", "as": "rr"}, {"calculate": "-datum.rr*sin(datum.angle*PI/180)", "as": "px"}, {"calculate": "datum.rr*cos(datum.angle*PI/180)", "as": "py"}],
         "mark": {"type": "line", "color": "#dcdcdc", "strokeWidth": 1, "interpolate": "catmull-rom"},
         "encoding": {"detail": {"field": "level", "type": "nominal"}, "order": {"field": "angle", "type": "quantitative"}}},
        {"data": {"name": "spokes"}, "transform": [{"calculate": "-40*sin(datum.angle*PI/180)", "as": "px"}, {"calculate": "40*cos(datum.angle*PI/180)", "as": "py"}],
         "mark": {"type": "rule", "stroke": "#dcdcdc", "strokeWidth": 1},
         "encoding": {"x": {"datum": 0, "type": "quantitative"}, "y": {"datum": 0, "type": "quantitative"}, "x2": {"field": "px"}, "y2": {"field": "py"}}},
        {"data": {"name": "angleLabels"}, "transform": [{"calculate": "-47.2*sin(datum.angle*PI/180)", "as": "px"}, {"calculate": "45.73*cos(datum.angle*PI/180)", "as": "py"}],
         "mark": {"type": "text", "font": "Liberation Serif", "fontSize": 17.5, "color": "#333333", "align": "center", "baseline": "middle"},
         "encoding": {"text": {"field": "label"}}},
        {"data": {"name": "radialLabels"}, "transform": [{"calculate": "datum.level + 40", "as": "rr"}, {"calculate": "-datum.rr*sin(349*PI/180)", "as": "px"}, {"calculate": "datum.rr*cos(349*PI/180)", "as": "py"}],
         "mark": {"type": "text", "font": "Liberation Serif", "fontSize": 17.5, "color": "#333333", "align": "center", "baseline": "middle"},
         "encoding": {"text": {"field": "label"}}},
        {"data": {"name": "titles"}, "transform": [{"filter": "datum.panel == '4GHz'"}, {"calculate": "0", "as": "px"}, {"calculate": "53.3", "as": "py"}],
         "mark": {"type": "text", "font": "Liberation Serif", "fontSize": 17.5, "color": "#111111", "align": "center", "baseline": "middle"},
         "encoding": {"text": {"field": "panel"}}},
        {"data": {"name": "curves"}, "transform": [{"filter": "datum.panel == '4GHz'"}, {"calculate": "datum.dB + 40", "as": "rr"}, {"calculate": "-datum.rr*sin(datum.angle*PI/180)", "as": "px"}, {"calculate": "datum.rr*cos(datum.angle*PI/180)", "as": "py"}],
         "mark": {"type": "line", "strokeWidth": 2, "interpolate": "catmull-rom"},
         "encoding": {
           "order": {"field": "angle", "type": "quantitative"},
           "color": {"field": "series", "type": "nominal", "scale": {"domain": ["Sim. Co-pol", "Sim. Cross-pol", "Mea. Co-pol", "Mea. Cross-pol"], "range": ["#ff0000", "#000000", "#ff0000", "#000000"]},
             "legend": {"title": null, "orient": "none", "legendX": 372.3, "legendY": 375, "columns": 2, "strokeColor": "#666666", "fillColor": "#ffffff", "padding": 3.5, "symbolType": "M-2,0H2", "symbolSize": 289, "symbolOffset": 8.5, "symbolStrokeWidth": 2, "labelFont": "Liberation Serif", "labelFontSize": 17.5, "labelColor": "#000000", "labelOffset": 11, "rowPadding": 4, "columnPadding": 2, "labelLimit": 300}},
           "strokeDash": {"field": "series", "type": "nominal", "scale": {"domain": ["Sim. Co-pol", "Sim. Cross-pol", "Mea. Co-pol", "Mea. Cross-pol"], "range": [[1, 0], [1, 0], [9, 5.5], [9, 5.5]]},
             "legend": {"title": null, "orient": "none", "legendX": 372.3, "legendY": 375, "columns": 2, "strokeColor": "#666666", "fillColor": "#ffffff", "padding": 3.5, "symbolType": "M-2,0H2", "symbolSize": 289, "symbolOffset": 8.5, "symbolStrokeWidth": 2, "labelFont": "Liberation Serif", "labelFontSize": 17.5, "labelColor": "#000000", "labelOffset": 11, "rowPadding": 4, "columnPadding": 2, "labelLimit": 300}}
         }}
      ]
    },
    {
      "width": 339.6, "height": 350,
      "encoding": {
        "x": {"field": "px", "type": "quantitative", "axis": null, "scale": {"domain": [-52.65, 52.65], "nice": false, "zero": false}},
        "y": {"field": "py", "type": "quantitative", "axis": null, "scale": {"domain": [-50.45, 58.08], "nice": false, "zero": false}}
      },
      "layer": [
        {"data": {"name": "rings"}, "transform": [{"calculate": "datum.level + 40", "as": "rr"}, {"calculate": "-datum.rr*sin(datum.angle*PI/180)", "as": "px"}, {"calculate": "datum.rr*cos(datum.angle*PI/180)", "as": "py"}],
         "mark": {"type": "line", "color": "#dcdcdc", "strokeWidth": 1, "interpolate": "catmull-rom"},
         "encoding": {"detail": {"field": "level", "type": "nominal"}, "order": {"field": "angle", "type": "quantitative"}}},
        {"data": {"name": "spokes"}, "transform": [{"calculate": "-40*sin(datum.angle*PI/180)", "as": "px"}, {"calculate": "40*cos(datum.angle*PI/180)", "as": "py"}],
         "mark": {"type": "rule", "stroke": "#dcdcdc", "strokeWidth": 1},
         "encoding": {"x": {"datum": 0, "type": "quantitative"}, "y": {"datum": 0, "type": "quantitative"}, "x2": {"field": "px"}, "y2": {"field": "py"}}},
        {"data": {"name": "angleLabels"}, "transform": [{"calculate": "-46.98*sin(datum.angle*PI/180)", "as": "px"}, {"calculate": "45.43*cos(datum.angle*PI/180)", "as": "py"}],
         "mark": {"type": "text", "font": "Liberation Serif", "fontSize": 17.5, "color": "#333333", "align": "center", "baseline": "middle"},
         "encoding": {"text": {"field": "label"}}},
        {"data": {"name": "radialLabels"}, "transform": [{"calculate": "datum.level + 40", "as": "rr"}, {"calculate": "-datum.rr*sin(349*PI/180)", "as": "px"}, {"calculate": "datum.rr*cos(349*PI/180)", "as": "py"}],
         "mark": {"type": "text", "font": "Liberation Serif", "fontSize": 17.5, "color": "#333333", "align": "center", "baseline": "middle"},
         "encoding": {"text": {"field": "label"}}},
        {"data": {"name": "titles"}, "transform": [{"filter": "datum.panel == '5.9GHz'"}, {"calculate": "0", "as": "px"}, {"calculate": "53.3", "as": "py"}],
         "mark": {"type": "text", "font": "Liberation Serif", "fontSize": 17.5, "color": "#111111", "align": "center", "baseline": "middle"},
         "encoding": {"text": {"field": "panel"}}},
        {"data": {"name": "curves"}, "transform": [{"filter": "datum.panel == '5.9GHz'"}, {"calculate": "datum.dB + 40", "as": "rr"}, {"calculate": "-datum.rr*sin(datum.angle*PI/180)", "as": "px"}, {"calculate": "datum.rr*cos(datum.angle*PI/180)", "as": "py"}],
         "mark": {"type": "line", "strokeWidth": 2, "interpolate": "catmull-rom"},
         "encoding": {
           "order": {"field": "angle", "type": "quantitative"},
           "color": {"field": "series", "type": "nominal", "scale": {"domain": ["Sim. Co-pol", "Sim. Cross-pol", "Mea. Co-pol", "Mea. Cross-pol"], "range": ["#ff0000", "#000000", "#ff0000", "#000000"]},
             "legend": {"title": null, "orient": "none", "legendX": 372.3, "legendY": 375, "columns": 2, "strokeColor": "#666666", "fillColor": "#ffffff", "padding": 3.5, "symbolType": "M-2,0H2", "symbolSize": 289, "symbolOffset": 8.5, "symbolStrokeWidth": 2, "labelFont": "Liberation Serif", "labelFontSize": 17.5, "labelColor": "#000000", "labelOffset": 11, "rowPadding": 4, "columnPadding": 2, "labelLimit": 300}},
           "strokeDash": {"field": "series", "type": "nominal", "scale": {"domain": ["Sim. Co-pol", "Sim. Cross-pol", "Mea. Co-pol", "Mea. Cross-pol"], "range": [[1, 0], [1, 0], [9, 5.5], [9, 5.5]]},
             "legend": {"title": null, "orient": "none", "legendX": 372.3, "legendY": 375, "columns": 2, "strokeColor": "#666666", "fillColor": "#ffffff", "padding": 3.5, "symbolType": "M-2,0H2", "symbolSize": 289, "symbolOffset": 8.5, "symbolStrokeWidth": 2, "labelFont": "Liberation Serif", "labelFontSize": 17.5, "labelColor": "#000000", "labelOffset": 11, "rowPadding": 4, "columnPadding": 2, "labelLimit": 300}}
         }}
      ]
    }
  ]
}
